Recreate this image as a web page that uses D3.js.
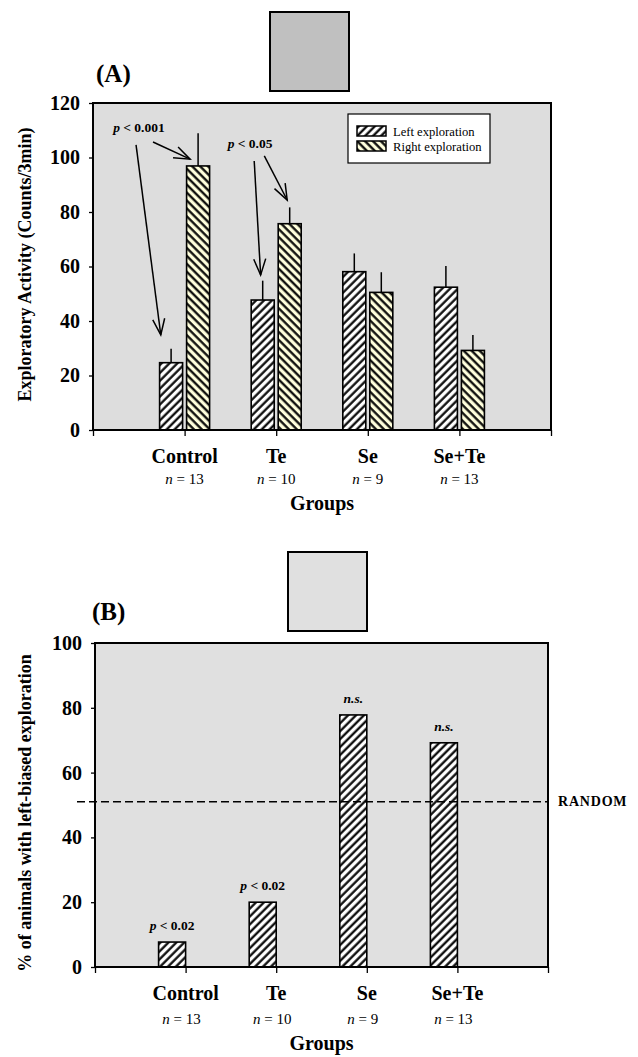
<!DOCTYPE html>
<html>
<head>
<meta charset="utf-8">
<script src="https://cdn.jsdelivr.net/npm/d3@7"></script>
<style>
  body { margin: 0; background: #fff; }
  svg text { font-family: "Liberation Serif", "Times New Roman", serif; fill: #000; }
</style>
</head>
<body>
<div id="chart"></div>
<script>
const kWidth = 638;
const kHeight = 1057;

// ---- data ----
const groups = ["Control", "Te", "Se", "Se+Te"];
const groupN = [13, 10, 9, 13];

const leftMean = [24.7, 47.7, 58.1, 52.4];
const leftErr = [5.1, 7.1, 6.7, 7.8];
const rightMean = [96.9, 75.7, 50.5, 29.2];
const rightErr = [12.0, 6.0, 7.4, 5.7];

const yTicksA = [0, 20, 40, 60, 80, 100, 120];
const yTicksB = [0, 20, 40, 60, 80, 100];

const leftBiasedPct = [7.7, 20, 77.8, 69.2];
const bLabels = ["p < 0.02", "p < 0.02", "n.s.", "n.s."];
const randomLevel = 51;

// arrows in panel A: [x0, y0, x1, y1] in (category units, counts)
const arrowsA = [
  [0.47, 104.6, 0.74, 34.9],
  [0.655, 105.7, 1.06, 99.4],
  [1.76, 98.7, 1.83, 56.9],
  [1.87, 100.6, 2.12, 84.4]
];
const pLabelsA = [
  { x: 0.22, y: 109.5, text: "0.001" },
  { x: 1.47, y: 103.5, text: "0.05" }
];

function createSvg()
{
  const svg = d3.select("#chart")
    .append("svg")
    .attr("width", kWidth)
    .attr("height", kHeight);

  const defs = svg.append("defs");
  function hatch(id, angle, fill)
  {
    const p = defs.append("pattern")
      .attr("id", id)
      .attr("patternUnits", "userSpaceOnUse")
      .attr("width", 5.6)
      .attr("height", 5.6)
      .attr("patternTransform", `rotate(${angle})`);
    p.append("rect").attr("width", 5.6).attr("height", 5.6).attr("fill", fill);
    p.append("line")
      .attr("x1", 1.5).attr("y1", 0).attr("x2", 1.5).attr("y2", 5.6)
      .attr("stroke", "#000").attr("stroke-width", 2.2);
  }
  hatch("hatchLeft", 45, "#ffffff");
  hatch("hatchRight", -45, "#ffffdc");

  const marker = defs.append("marker")
    .attr("id", "openArrow")
    .attr("viewBox", "0 0 20 20")
    .attr("refX", 18).attr("refY", 10)
    .attr("markerWidth", 20).attr("markerHeight", 20)
    .attr("markerUnits", "userSpaceOnUse")
    .attr("orient", "auto");
  marker.append("path")
    .attr("d", "M2,4 L18,10 L2,16")
    .attr("fill", "none")
    .attr("stroke", "#000")
    .attr("stroke-width", 1.5);

  return svg;
}

function styleAxis(g)
{
  g.select(".domain").remove();
  g.selectAll(".tick line").attr("stroke", "#000").attr("stroke-width", 1.3);
}

function drawPanelA(svg)
{
  const x = d3.scaleLinear().domain([0, 5]).range([93, 551]);
  const y = d3.scaleLinear().domain([0, 120]).range([430, 103]);

  svg.append("rect")
    .attr("x", 270).attr("y", 12).attr("width", 79).attr("height", 79)
    .attr("fill", "#c0c0c0").attr("stroke", "#000").attr("stroke-width", 2);

  svg.append("text")
    .attr("x", 96).attr("y", 82)
    .style("font-size", "25px").style("font-weight", "bold")
    .text("(A)");

  svg.append("rect")
    .attr("x", x(0)).attr("y", y(120))
    .attr("width", x(5) - x(0)).attr("height", y(0) - y(120))
    .attr("fill", "#dddddd");

  const yAxis = d3.axisLeft(y).tickValues(yTicksA).tickSize(4).tickPadding(9);
  svg.append("g")
    .attr("transform", `translate(${x(0)},0)`)
    .call(yAxis)
    .call(styleAxis)
    .selectAll("text")
    .style("font-size", "20px").style("font-weight", "bold")
    .style("font-family", "Liberation Serif");

  const xAxis = d3.axisBottom(x).tickValues([0, 1, 2, 3, 4, 5]).tickSize(6).tickFormat("");
  svg.append("g")
    .attr("transform", `translate(0,${y(0)})`)
    .call(xAxis)
    .call(styleAxis);

  const bars = svg.append("g");
  groups.forEach((g, i) => {
    const cx = x(i + 1);
    bars.append("line")
      .attr("x1", cx - 13.5).attr("x2", cx - 13.5)
      .attr("y1", y(leftMean[i])).attr("y2", y(leftMean[i] + leftErr[i]))
      .attr("stroke", "#000").attr("stroke-width", 1.5);
    bars.append("line")
      .attr("x1", cx + 13.5).attr("x2", cx + 13.5)
      .attr("y1", y(rightMean[i])).attr("y2", y(rightMean[i] + rightErr[i]))
      .attr("stroke", "#000").attr("stroke-width", 1.5);
    bars.append("rect")
      .attr("x", cx - 25).attr("width", 23)
      .attr("y", y(leftMean[i])).attr("height", y(0) - y(leftMean[i]))
      .attr("fill", "url(#hatchLeft)").attr("stroke", "#000").attr("stroke-width", 1.6);
    bars.append("rect")
      .attr("x", cx + 2).attr("width", 23)
      .attr("y", y(rightMean[i])).attr("height", y(0) - y(rightMean[i]))
      .attr("fill", "url(#hatchRight)").attr("stroke", "#000").attr("stroke-width", 1.6);
  });

  // frame
  svg.append("rect")
    .attr("x", x(0)).attr("y", y(120))
    .attr("width", x(5) - x(0)).attr("height", y(0) - y(120))
    .attr("fill", "none").attr("stroke", "#000").attr("stroke-width", 2);

  // arrows + p values
  svg.append("g").selectAll("line")
    .data(arrowsA)
    .enter()
    .append("line")
    .attr("x1", d => x(d[0])).attr("y1", d => y(d[1]))
    .attr("x2", d => x(d[2])).attr("y2", d => y(d[3]))
    .attr("stroke", "#000").attr("stroke-width", 1.5)
    .attr("marker-end", "url(#openArrow)");

  pLabelsA.forEach(d => {
    const t = svg.append("text")
      .attr("x", x(d.x)).attr("y", y(d.y))
      .style("font-size", "13.5px").style("font-weight", "bold");
    t.append("tspan").style("font-style", "italic").text("p");
    t.append("tspan").text(" < " + d.text);
  });

  // legend
  svg.append("rect")
    .attr("x", 348).attr("y", 114).attr("width", 142).attr("height", 49)
    .attr("fill", "#fff").attr("stroke", "#000").attr("stroke-width", 1.2);
  const legend = [["Left exploration", "url(#hatchLeft)"], ["Right exploration", "url(#hatchRight)"]];
  legend.forEach((l, i) => {
    svg.append("rect")
      .attr("x", 357).attr("y", 126 + i * 15).attr("width", 29).attr("height", 10)
      .attr("fill", l[1]).attr("stroke", "#000").attr("stroke-width", 1.5);
    svg.append("text")
      .attr("x", 393).attr("y", 135.5 + i * 15)
      .style("font-size", "12.6px")
      .text(l[0]);
  });

  // labels
  groups.forEach((g, i) => {
    svg.append("text")
      .attr("x", x(i + 1)).attr("y", 463)
      .attr("text-anchor", "middle")
      .style("font-size", "20px").style("font-weight", "bold")
      .text(g);
    const t = svg.append("text")
      .attr("x", x(i + 1)).attr("y", 484)
      .attr("text-anchor", "middle")
      .style("font-size", "15px");
    t.append("tspan").style("font-style", "italic").text("n");
    t.append("tspan").text(" = " + groupN[i]);
  });
  svg.append("text")
    .attr("x", x(2.5)).attr("y", 510)
    .attr("text-anchor", "middle")
    .style("font-size", "20px").style("font-weight", "bold")
    .text("Groups");

  svg.append("text")
    .attr("transform", `translate(31,${(y(0) + y(120)) / 2 - 2}) rotate(-90)`)
    .attr("text-anchor", "middle")
    .style("font-size", "18px").style("font-weight", "bold")
    .text("Exploratory Activity (Counts/3min)");
}

function drawPanelB(svg)
{
  const x = d3.scaleLinear().domain([0, 5]).range([95, 548]);
  const y = d3.scaleLinear().domain([0, 100]).range([967, 643]);

  svg.append("rect")
    .attr("x", 288).attr("y", 552).attr("width", 79).attr("height", 79)
    .attr("fill", "#e0e0e0").attr("stroke", "#000").attr("stroke-width", 2);

  svg.append("text")
    .attr("x", 92).attr("y", 620)
    .style("font-size", "25px").style("font-weight", "bold")
    .text("(B)");

  svg.append("rect")
    .attr("x", x(0)).attr("y", y(100))
    .attr("width", x(5) - x(0)).attr("height", y(0) - y(100))
    .attr("fill", "#e0e0e0");

  const yAxis = d3.axisLeft(y).tickValues(yTicksB).tickSize(4).tickPadding(9);
  svg.append("g")
    .attr("transform", `translate(${x(0)},0)`)
    .call(yAxis)
    .call(styleAxis)
    .selectAll("text")
    .style("font-size", "20px").style("font-weight", "bold")
    .style("font-family", "Liberation Serif");

  const xAxis = d3.axisBottom(x).tickValues([0, 1, 2, 3, 4, 5]).tickSize(6).tickFormat("");
  svg.append("g")
    .attr("transform", `translate(0,${y(0)})`)
    .call(xAxis)
    .call(styleAxis);

  svg.append("g").selectAll("rect")
    .data(leftBiasedPct)
    .enter()
    .append("rect")
    .attr("x", (d, i) => x(i + 1) - 27)
    .attr("width", 27)
    .attr("y", d => y(d))
    .attr("height", d => y(0) - y(d))
    .attr("fill", "url(#hatchLeft)")
    .attr("stroke", "#000").attr("stroke-width", 1.6);

  svg.append("line")
    .attr("x1", 77).attr("x2", x(5))
    .attr("y1", y(randomLevel)).attr("y2", y(randomLevel))
    .attr("stroke", "#000").attr("stroke-width", 1.5)
    .attr("stroke-dasharray", "8,4");

  svg.append("rect")
    .attr("x", x(0)).attr("y", y(100))
    .attr("width", x(5) - x(0)).attr("height", y(0) - y(100))
    .attr("fill", "none").attr("stroke", "#000").attr("stroke-width", 2);

  svg.append("text")
    .attr("x", x(5) + 10).attr("y", y(randomLevel) + 4.5)
    .style("font-size", "14px").style("font-weight", "bold")
    .style("letter-spacing", "0.8px")
    .text("RANDOM");

  bLabels.forEach((l, i) => {
    const t = svg.append("text")
      .attr("x", x(i + 1) - 13.5).attr("y", y(leftBiasedPct[i]) - 12)
      .attr("text-anchor", "middle")
      .style("font-size", "13.5px").style("font-weight", "bold");
    if (l.startsWith("p")) {
      t.append("tspan").style("font-style", "italic").text("p");
      t.append("tspan").text(l.slice(1));
    } else {
      t.style("font-style", "italic").text(l);
    }
  });

  groups.forEach((g, i) => {
    svg.append("text")
      .attr("x", x(i + 1)).attr("y", 1000)
      .attr("text-anchor", "middle")
      .style("font-size", "20px").style("font-weight", "bold")
      .text(g);
    const t = svg.append("text")
      .attr("x", x(i + 1) - 4).attr("y", 1024)
      .attr("text-anchor", "middle")
      .style("font-size", "15px");
    t.append("tspan").style("font-style", "italic").text("n");
    t.append("tspan").text(" = " + groupN[i]);
  });
  svg.append("text")
    .attr("x", x(2.5)).attr("y", 1050)
    .attr("text-anchor", "middle")
    .style("font-size", "20px").style("font-weight", "bold")
    .text("Groups");

  svg.append("text")
    .attr("transform", `translate(31,${(y(0) + y(100)) / 2 + 8}) rotate(-90)`)
    .attr("text-anchor", "middle")
    .style("font-size", "18px").style("font-weight", "bold")
    .text("% of animals with left-biased exploration");
}

document.addEventListener("DOMContentLoaded", () => {
  const svg = createSvg();
  drawPanelA(svg);
  drawPanelB(svg);
});
</script>
</body>
</html>
